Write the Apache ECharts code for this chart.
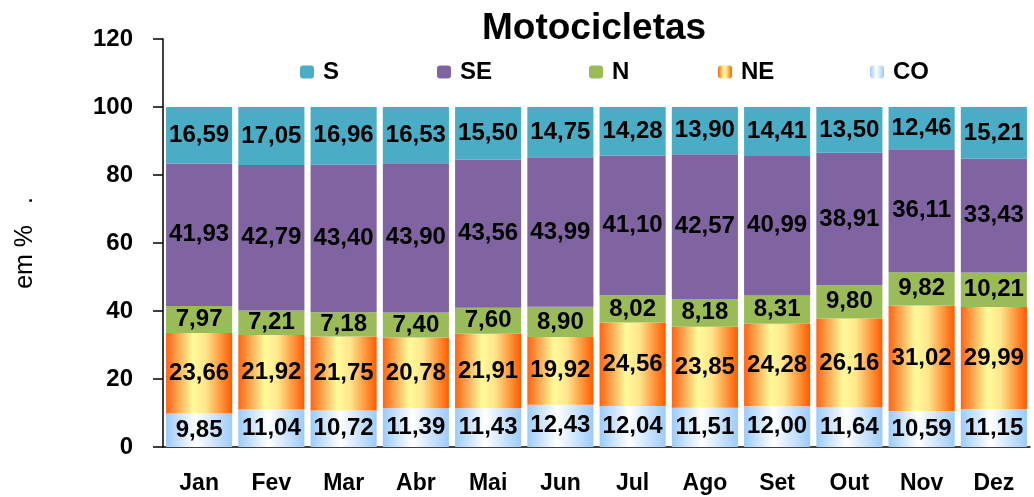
<!DOCTYPE html>
<html lang="pt">
<head>
<meta charset="utf-8" />
<title>Motocicletas</title>
<script src="https://cdn.jsdelivr.net/npm/echarts@6/dist/echarts.min.js"></script>
<style>
  html, body { margin: 0; padding: 0; background: #fff; }
  #main { width: 1034px; height: 497px; }
</style>
</head>
<body>
<div id="main"></div>
<script>
// dados (em %)
var meses = ['Jan', 'Fev', 'Mar', 'Abr', 'Mai', 'Jun', 'Jul', 'Ago', 'Set', 'Out', 'Nov', 'Dez'];
var CO = [9.85, 11.04, 10.72, 11.39, 11.43, 12.43, 12.04, 11.51, 12.00, 11.64, 10.59, 11.15];
var NE = [23.66, 21.92, 21.75, 20.78, 21.91, 19.92, 24.56, 23.85, 24.28, 26.16, 31.02, 29.99];
var N = [7.97, 7.21, 7.18, 7.40, 7.60, 8.90, 8.02, 8.18, 8.31, 9.80, 9.82, 10.21];
var SE = [41.93, 42.79, 43.40, 43.90, 43.56, 43.99, 41.10, 42.57, 40.99, 38.91, 36.11, 33.43];
var S = [16.59, 17.05, 16.96, 16.53, 15.50, 14.75, 14.28, 13.90, 14.41, 13.50, 12.46, 15.21];

var fonte = 'Liberation Sans, Arial, sans-serif';

var corNE = new echarts.graphic.LinearGradient(0, 0, 1, 0, [
    {offset: 0, color: '#ff6414'},
    {offset: 0.4, color: '#fffa9a'},
    {offset: 0.6, color: '#ffe68c'},
    {offset: 1, color: '#ff5a00'}
]);
var corCO = new echarts.graphic.LinearGradient(0, 0, 1, 0, [
    {offset: 0, color: '#9ccbfa'},
    {offset: 0.45, color: '#ffffff'},
    {offset: 1, color: '#9ccbfa'}
]);

function rotulo(p) {
    return p.value.toFixed(2).replace('.', ',');
}

function serie(nome, dados, cor) {
    return {
        name: nome,
        type: 'bar',
        stack: 'total',
        barCategoryGap: '8.5%',
        data: dados,
        itemStyle: {color: cor},
        label: {
            show: true,
            position: 'inside',
            formatter: rotulo,
            color: '#000',
            fontFamily: fonte,
            fontWeight: 'bold',
            fontSize: 24
        }
    };
}

function legenda(nome, x) {
    return {
        data: [nome],
        left: x,
        top: 55,
        itemWidth: 14,
        itemHeight: 13,
        textStyle: {color: '#000', fontFamily: fonte, fontWeight: 'bold', fontSize: 24, padding: [0, 0, 0, 4]}
    };
}

var myChart = echarts.init(document.getElementById('main'));

var option = {
    animation: false,
    backgroundColor: '#fff',
    title: {
        text: 'Motocicletas',
        left: 477,
        top: 5,
        textStyle: {color: '#000', fontFamily: fonte, fontWeight: 'bold', fontSize: 37}
    },
    legend: [
        legenda('S', 295),
        legenda('SE', 432),
        legenda('N', 584),
        legenda('NE', 713),
        legenda('CO', 865)
    ],
    grid: {left: 163, right: 4, top: 39, bottom: 50},
    xAxis: {
        type: 'category',
        data: meses,
        axisLine: {lineStyle: {color: '#000', width: 1.5}},
        axisTick: {length: 9, lineStyle: {color: '#000', width: 1.5}},
        axisLabel: {margin: 25, color: '#000', fontFamily: fonte, fontWeight: 'bold', fontSize: 23}
    },
    yAxis: {
        type: 'value',
        min: 0,
        max: 120,
        interval: 20,
        name: 'em %   .',
        nameLocation: 'middle',
        nameRotate: 90,
        nameGap: 125,
        nameTextStyle: {color: '#000', fontFamily: fonte, fontSize: 25},
        splitLine: {show: false},
        axisLine: {show: true, lineStyle: {color: '#000', width: 1.5}},
        axisTick: {show: true, length: 10, lineStyle: {color: '#000', width: 1.5}},
        axisLabel: {margin: 30, color: '#000', fontFamily: fonte, fontWeight: 'bold', fontSize: 24}
    },
    series: [
        serie('CO', CO, corCO),
        serie('NE', NE, corNE),
        serie('N', N, '#9bbb59'),
        serie('SE', SE, '#8064a2'),
        serie('S', S, '#4bacc6')
    ]
};

myChart.setOption(option);
</script>
</body>
</html>
